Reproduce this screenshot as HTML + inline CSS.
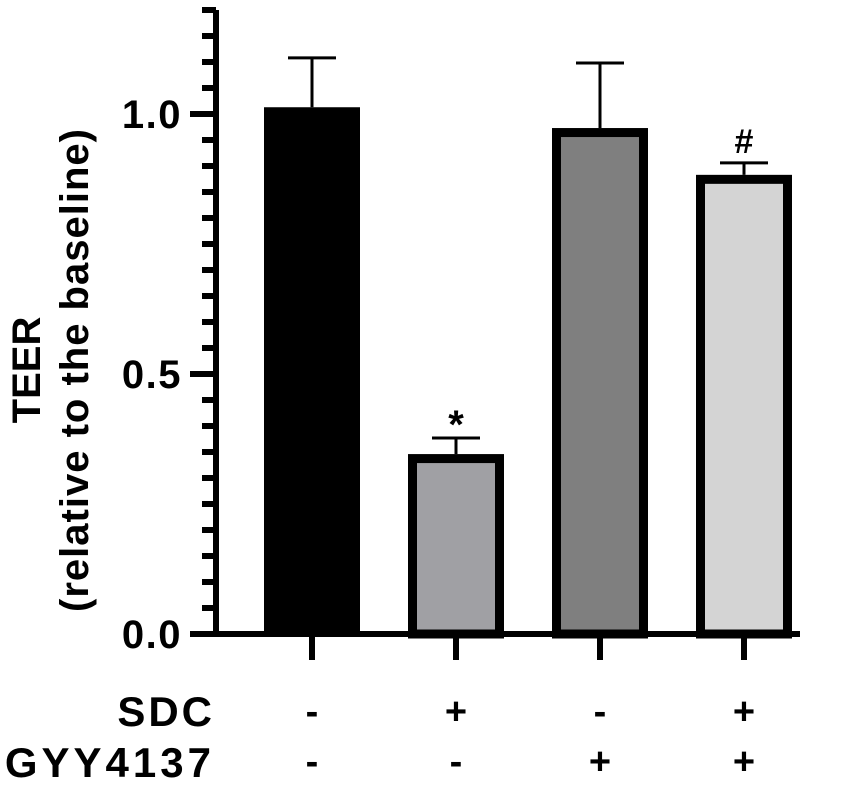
<!DOCTYPE html>
<html><head><meta charset="utf-8"><style>
body{margin:0;background:#fff;}
svg text{font-family:"Liberation Sans",Arial,sans-serif;font-weight:bold;fill:#000;}
</style></head><body>
<svg id="chart" width="850" height="789" viewBox="0 0 850 789"></svg>
<script>
const categories = ["Control","SDC","GYY4137","SDC+GYY4137"];
const means = [1.013, 0.346, 0.973, 0.883];
const errors = [0.095, 0.031, 0.125, 0.023];
const fills = ["#000000","#a0a0a4","#7f7f7f","#d4d4d4"];
const marks = ["", "*", "", "#"];
const sdcSigns = ["-","+","-","+"];
const gyySigns = ["-","-","+","+"];
const yTicks = [0, 0.5, 1.0];
const yTickLabels = ["0.0","0.5","1.0"];

const NS="http://www.w3.org/2000/svg";
const svg=document.getElementById('chart');
const y0=634, pxPerUnit=520, axisX=216;
const y=v=>y0-v*pxPerUnit;
const xc=i=>312+i*144;
const bw=96;
function el(tag,attrs){const e=document.createElementNS(NS,tag);for(const k in attrs)e.setAttribute(k,attrs[k]);svg.appendChild(e);return e;}

for(let k=1;k<=24;k++){
  const v=k*0.05;
  if(Math.abs(v*2-Math.round(v*2))<1e-6) continue;
  const t=el('line',{x1:202,x2:axisX,y1:y(v),y2:y(v),stroke:'#000','stroke-width':6});
  
  
}
yTicks.forEach((v,i)=>{
  const t=el('line',{x1:190,x2:axisX,y1:y(v),y2:y(v),stroke:'#000','stroke-width':6});
  
  
  const l=el('text',{x:182,y:y(v)+14,'text-anchor':'end','font-size':40,'letter-spacing':1.5});
  l.textContent=yTickLabels[i];
  
  
});
const ya=el('line',{x1:axisX,x2:axisX,y1:y(1.2),y2:y0+3,stroke:'#000','stroke-width':6});



means.forEach((m,i)=>{
  const cx=xc(i);
  const top=y(m), e=y(m+errors[i]);
  const eb=el('line',{x1:cx,x2:cx,y1:e,y2:top,stroke:'#000','stroke-width':3});
  
  
  const cap=el('line',{x1:cx-24,x2:cx+24,y1:e,y2:e,stroke:'#000','stroke-width':3});
  
  
  let r;
  if(i===0){
    r=el('rect',{x:cx-bw/2,y:top,width:bw,height:y0-top,fill:'#000'});
  } else {
    r=el('rect',{x:cx-bw/2+4.5,y:top+4.5,width:bw-9,height:y0-top-4.5,fill:fills[i],stroke:'#000','stroke-width':9});
  }
  
  
  if(marks[i]){
    const s=el('text',{x:cx,y:e-(marks[i]==='*'?0:10),'text-anchor':'middle','font-size':marks[i]==='*'?40:34});
    s.textContent=marks[i];
    
    
  }
  const xt=el('line',{x1:cx,x2:cx,y1:y0,y2:660,stroke:'#000','stroke-width':6});
  
  
  const a=el('text',{x:cx,y:724,'text-anchor':'middle','font-size':38});
  a.textContent=sdcSigns[i];
  
  
  const b=el('text',{x:cx,y:774,'text-anchor':'middle','font-size':38});
  b.textContent=gyySigns[i];
  
  
});
const xa=el('line',{x1:190,x2:800,y1:y0,y2:y0,stroke:'#000','stroke-width':6});



const r1=el('text',{x:215,y:726,'text-anchor':'end','font-size':42,'letter-spacing':3});
r1.textContent='SDC';


const r2=el('text',{x:215,y:777,'text-anchor':'end','font-size':42,'letter-spacing':4});
r2.textContent='GYY4137';



const t1=el('text',{x:0,y:0,'text-anchor':'middle','font-size':40,transform:'translate(40,370) rotate(-90)'});
t1.textContent='TEER';


const t2=el('text',{x:0,y:0,'text-anchor':'middle','font-size':40,'letter-spacing':1,transform:'translate(88,370) rotate(-90)'});
t2.textContent='(relative to the baseline)';


</script>
</body></html>
